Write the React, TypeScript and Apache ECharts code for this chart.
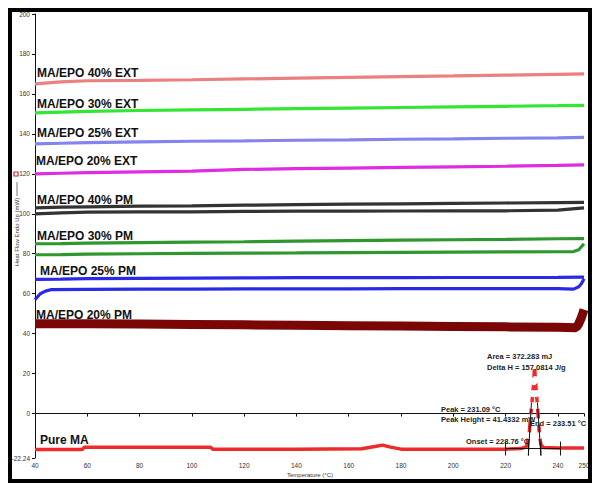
import React, { useEffect, useRef } from "react";
import * as echarts from "echarts";

// ---- data ----
const xTicks = [40, 60, 80, 100, 120, 140, 160, 180, 200, 220, 240, 250];
const yTicks = [-22.24, 0, 20, 40, 60, 80, 100, 120, 140, 160, 180, 200];

const tempsA = [40, 50, 60, 80, 100, 120, 140, 160, 180, 200, 220, 240, 250];
const ext40 = [165, 166, 166.6, 166.8, 167.1, 167.5, 167.9, 168.3, 168.7, 169, 169.4, 169.8, 170];
const ext30 = [150.5, 150.9, 151.3, 151.7, 152, 152.3, 152.6, 152.9, 153.2, 153.5, 153.8, 154.1, 154.3];
const ext25 = [135, 135.3, 135.6, 136, 136.3, 136.5, 136.8, 137, 137.3, 137.5, 137.8, 138, 138.2];
const ext20 = [120, 120.3, 120.6, 121, 121.4, 122.2, 122.6, 122.9, 123.2, 123.5, 123.8, 124.2, 124.5];
const pm40a = [103, 103.3, 103.5, 103.8, 104, 104.3, 104.6, 104.8, 105, 105.2, 105.4, 105.6, 105.7];
const pm40b = [100, 100.5, 100.8, 101, 101, 101.2, 101.3, 101.3, 101.4, 101.5, 101.5, 101.8, 103];
const pm30a = [85, 85.1, 85.3, 85.6, 85.8, 86, 86.3, 86.6, 86.8, 87, 87.2, 87.5, 87.6];
const pm25a = [67.2, 67.3, 67.5, 67.7, 67.8, 67.9, 68, 68, 68, 68.1, 68.1, 68.2, 68.3];

const tempsPm30b = [40, 50, 60, 80, 100, 120, 140, 160, 180, 200, 220, 240, 246, 248, 249, 250];
const pm30b = [79.5, 79.6, 79.8, 80, 80.2, 80.3, 80.4, 80.6, 80.7, 80.8, 80.9, 81, 81.1, 82, 83.5, 85];

const tempsPm25b = [40, 41, 42, 44, 46, 60, 80, 100, 120, 140, 160, 180, 200, 220, 240, 246, 248, 249, 250];
const pm25b = [57, 58.5, 60, 61.3, 62, 62.2, 62.3, 62.3, 62.4, 62.4, 62.4, 62.5, 62.5, 62.5, 62.5, 62.3, 63.5, 65, 67.5];

const tempsPm20 = [40, 60, 80, 100, 120, 140, 160, 180, 200, 220, 240, 247, 248, 249, 250];
const pm20 = [45, 45, 44.8, 44.6, 44.4, 44.2, 44, 43.8, 43.6, 43.4, 43.2, 43, 45, 48, 52];

const tempsPure = [40, 58, 59, 80, 107, 108, 140, 165, 170, 173, 176, 180, 200, 220, 226, 228, 229, 229.5, 230, 230.4, 230.8, 231.09, 231.4, 231.8, 232.2, 232.6, 233, 233.5, 234.5, 240, 250];
const pureMA = [-18, -18, -16.8, -16.8, -16.8, -17.8, -17.8, -17.6, -16.5, -15.8, -16.8, -17.8, -17.8, -17.8, -17.5, -16.5, -11, -2, 4, 10, 16, 24, 17, 10, 4, -4, -11, -15.5, -17, -17.2, -17.2];

// peak analysis annotation
const baselineLine = [[220, -17.5], [241, -17.5]];
const baselineTicks = [220, 228.76, 233.51, 241];
const tangentLeft = [[228.7, -21], [229.9, 5.5]];
const tangentRight = [[232.2, 5.5], [233.5, -21]];

const seriesLabels = [
  { text: "MA/EPO 40% EXT", x: 37, y: 73 },
  { text: "MA/EPO 30% EXT", x: 37, y: 104 },
  { text: "MA/EPO 25% EXT", x: 37, y: 133 },
  { text: "MA/EPO 20% EXT", x: 36, y: 161 },
  { text: "MA/EPO 40% PM", x: 37, y: 200 },
  { text: "MA/EPO 30% PM", x: 37, y: 236 },
  { text: "MA/EPO 25% PM", x: 40, y: 271 },
  { text: "MA/EPO 20% PM", x: 36, y: 315 },
  { text: "Pure MA", x: 40, y: 440 },
];

const peakTexts = [
  { text: "Area = 372.283 mJ", x: 487, y: 356 },
  { text: "Delta H = 157.0814 J/g", x: 487, y: 367 },
  { text: "Peak = 231.09 °C", x: 441, y: 409 },
  { text: "Peak Height = 41.4332 mW", x: 441, y: 419 },
  { text: "End = 233.51 °C", x: 530, y: 423 },
  { text: "Onset = 228.76 °C", x: 466, y: 441 },
];

const zip = (xs: number[], ys: number[]) => xs.map((x, i) => [x, ys[i]]);

const lineSeries = (name: string, xs: number[], ys: number[], color: string, width = 3.2) => ({
  name,
  type: "line",
  data: zip(xs, ys),
  symbol: "none",
  lineStyle: { color, width },
  z: 3,
});

const blackLine = (data: number[][]) => ({
  type: "line",
  data,
  symbol: "none",
  lineStyle: { color: "#111", width: 1 },
  z: 5,
});

export default function App() {
  const ref = useRef<HTMLDivElement>(null);
  useEffect(() => {
    document.body.style.margin = "0";
    const chart = echarts.init(ref.current!, null, { renderer: "svg" });
    const font = "Liberation Sans, Arial, sans-serif";
    const option: any = {
      animation: false,
      backgroundColor: "#fff",
      grid: { left: 35, top: 14, right: 18, bottom: 36 },
      xAxis: {
        type: "value",
        min: 40,
        max: 250,
        axisLine: { lineStyle: { color: "#111", width: 1 } },
        axisTick: { customValues: xTicks, length: 3, lineStyle: { color: "#111" } },
        axisLabel: { customValues: xTicks, fontSize: 6.5, color: "#333", fontFamily: font, margin: 4 },
        splitLine: { show: false },
      },
      yAxis: {
        type: "value",
        min: -22.24,
        max: 200,
        axisLine: { show: true, lineStyle: { color: "#111", width: 1 } },
        axisTick: { show: true, customValues: yTicks, length: 3, lineStyle: { color: "#111" } },
        axisLabel: {
          customValues: yTicks,
          fontSize: 6.5,
          color: "#333",
          fontFamily: font,
          margin: 5,
          formatter: (v: number) => String(Math.round(v * 100) / 100),
        },
        splitLine: { show: false },
      },
      series: [
        lineSeries("MA/EPO 40% EXT", tempsA, ext40, "#ec8080"),
        lineSeries("MA/EPO 30% EXT", tempsA, ext30, "#33e633"),
        lineSeries("MA/EPO 25% EXT", tempsA, ext25, "#8484ee"),
        lineSeries("MA/EPO 20% EXT", tempsA, ext20, "#e02ce0"),
        lineSeries("MA/EPO 40% PM a", tempsA, pm40a, "#333333"),
        lineSeries("MA/EPO 40% PM b", tempsA, pm40b, "#333333"),
        lineSeries("MA/EPO 30% PM a", tempsA, pm30a, "#2e982e"),
        lineSeries("MA/EPO 30% PM b", tempsPm30b, pm30b, "#2e982e"),
        lineSeries("MA/EPO 25% PM a", tempsA, pm25a, "#2a2ae6"),
        lineSeries("MA/EPO 25% PM b", tempsPm25b, pm25b, "#2a2ae6"),
        lineSeries("MA/EPO 20% PM", tempsPm20, pm20, "#7a0606", 9),
        {
          name: "Pure MA",
          type: "line",
          data: zip(tempsPure, pureMA),
          symbol: "emptyCircle",
          showSymbol: true,
          symbolSize: (v: number[]) => (v[0] > 228.5 && v[0] < 234 && v[1] > -14 ? 5 : 0),
          itemStyle: { color: "#fff", borderColor: "#d84040", borderWidth: 1 },
          lineStyle: { color: "#ee2a2a", width: 3.5 },
          z: 4,
        },
        blackLine(baselineLine),
        ...baselineTicks.map((t) => blackLine([[t, -14], [t, -21]])),
        blackLine(tangentLeft),
        blackLine(tangentRight),
      ],
      graphic: [
        {
          type: "rect",
          shape: { x: 10, y: 10, width: 580, height: 471 },
          style: { fill: "none", stroke: "#000", lineWidth: 4 },
          z: 100,
        },
        ...seriesLabels.map((l) => ({
          type: "text",
          x: l.x,
          y: l.y,
          style: {
            text: l.text,
            fontSize: 12,
            fontWeight: "bold",
            fontFamily: font,
            fill: "#111",
            verticalAlign: "middle",
          },
          z: 50,
        })),
        ...peakTexts.map((l) => ({
          type: "text",
          x: l.x,
          y: l.y,
          style: {
            text: l.text,
            fontSize: 7.5,
            fontWeight: "bold",
            fontFamily: font,
            fill: "#222",
            verticalAlign: "middle",
          },
          z: 50,
        })),
        {
          type: "text",
          x: 17,
          y: 232,
          rotation: Math.PI / 2,
          style: {
            text: "Heat Flow Endo Up (mW)",
            fontSize: 6,
            fontFamily: font,
            fill: "#333",
            align: "center",
            verticalAlign: "middle",
          },
        },
        {
          type: "line",
          shape: { x1: 17, y1: 182, x2: 17, y2: 196 },
          style: { stroke: "#555", lineWidth: 0.8 },
        },
        {
          type: "rect",
          shape: { x: 14, y: 172, width: 4, height: 4 },
          style: { fill: "#fff", stroke: "#c03030", lineWidth: 1.2 },
        },
        {
          type: "text",
          x: 310,
          y: 475,
          style: {
            text: "Temperature (°C)",
            fontSize: 6,
            fontFamily: font,
            fill: "#333",
            align: "center",
            verticalAlign: "middle",
          },
        },
      ],
    };
    chart.setOption(option);
    return () => chart.dispose();
  }, []);
  return <div ref={ref} style={{ width: 602, height: 494 }} />;
}
